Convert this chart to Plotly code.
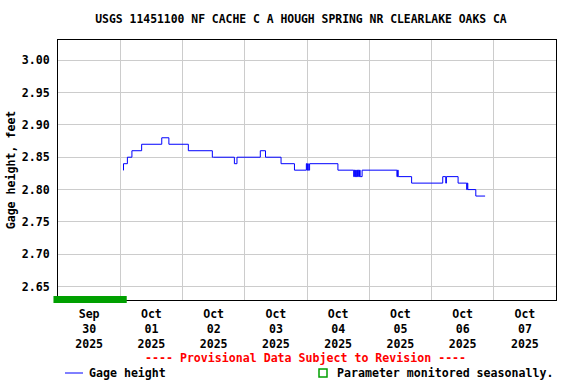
import plotly.graph_objects as go
import pandas as pd

# ---- data ----
times = [
    "2025-10-01 01:05", "2025-10-01 01:15", "2025-10-01 02:45", "2025-10-01 04:30",
    "2025-10-01 08:15", "2025-10-01 16:00", "2025-10-01 18:45", "2025-10-02 02:15",
    "2025-10-02 11:30", "2025-10-02 11:45", "2025-10-02 12:00", "2025-10-02 20:00",
    "2025-10-02 21:00", "2025-10-03 06:00", "2025-10-03 08:00", "2025-10-03 14:00",
    "2025-10-03 19:10", "2025-10-03 23:45", "2025-10-04 00:00", "2025-10-04 00:15",
    "2025-10-04 00:30", "2025-10-04 01:00", "2025-10-04 11:55", "2025-10-04 18:00",
    "2025-10-04 18:15", "2025-10-04 18:30", "2025-10-04 18:45", "2025-10-04 19:00",
    "2025-10-04 19:15", "2025-10-04 19:30", "2025-10-04 19:45", "2025-10-04 20:00",
    "2025-10-04 20:15", "2025-10-04 20:30", "2025-10-04 21:15", "2025-10-05 10:40",
    "2025-10-05 10:55", "2025-10-05 11:10", "2025-10-05 11:25", "2025-10-05 16:20",
    "2025-10-06 04:20", "2025-10-06 05:30", "2025-10-06 05:45", "2025-10-06 10:15",
    "2025-10-06 13:35", "2025-10-06 13:45", "2025-10-06 14:00", "2025-10-06 17:05",
    "2025-10-06 20:40",
]
gage_ft = [
    2.83, 2.84, 2.85, 2.86,
    2.87, 2.88, 2.87, 2.86,
    2.85, 2.85, 2.85, 2.84,
    2.85, 2.86, 2.85, 2.84,
    2.83, 2.84, 2.83, 2.84,
    2.83, 2.84, 2.83, 2.82,
    2.83, 2.82, 2.83, 2.82,
    2.83, 2.82, 2.83, 2.82,
    2.83, 2.82, 2.83, 2.82,
    2.83, 2.82, 2.82, 2.81,
    2.82, 2.81, 2.82, 2.81,
    2.80, 2.81, 2.80, 2.79,
    2.79,
]

day_starts = ["2025-09-30", "2025-10-01", "2025-10-02", "2025-10-03",
              "2025-10-04", "2025-10-05", "2025-10-06", "2025-10-07", "2025-10-08"]
tick_labels = ["Sep<br>30<br>2025", "Oct<br>01<br>2025", "Oct<br>02<br>2025",
               "Oct<br>03<br>2025", "Oct<br>04<br>2025", "Oct<br>05<br>2025",
               "Oct<br>06<br>2025", "Oct<br>07<br>2025"]
y_ticks = [2.65, 2.70, 2.75, 2.80, 2.85, 2.90, 2.95, 3.00]

seasonal_start = "2025-09-29 22:15"
seasonal_end = "2025-10-01 02:30"

title = "USGS 11451100 NF CACHE C A HOUGH SPRING NR CLEARLAKE OAKS CA"

# ---- figure ----
FONT = "DejaVu Sans Mono"
FS = 11.6
L, R, T, B = 58, 20, 40, 84
PW, PH = 576 - L - R, 384 - T - B


def px(xpix):
    return (xpix - L) / PW


def py(ypix):
    return (384 - B - ypix) / PH


days = pd.to_datetime(day_starts)
noon = [d + pd.Timedelta(hours=12) for d in days[:-1]]
span = days[-1] - days[0]


def date_frac(t):
    return (pd.Timestamp(t) - days[0]) / span


fig = go.Figure()
fig.add_trace(go.Scatter(
    x=pd.to_datetime(times), y=gage_ft, mode="lines", line_shape="hv",
    line=dict(color="#0000ff", width=1), showlegend=False, name="Gage height",
))

fig.add_shape(type="rect", xref="paper", yref="paper",
              x0=date_frac(seasonal_start), x1=date_frac(seasonal_end),
              y0=py(303), y1=py(296),
              fillcolor="#00a000", line=dict(width=0), layer="above")

fig.update_layout(
    width=576, height=384,
    margin=dict(l=L, r=R, t=T, b=B, autoexpand=False),
    paper_bgcolor="white", plot_bgcolor="white",
    font=dict(family=FONT, size=FS, color="black"),
    title=dict(text="<b>" + title + "</b>", x=px(301), xref="paper",
               y=1 - 19.5 / 384, yref="container", xanchor="center", yanchor="middle",
               font=dict(family=FONT, size=11.4, color="black")),
    showlegend=False,
)
fig.update_xaxes(
    range=[days[0], days[-1]],
    tickmode="array", tickvals=noon,
    ticktext=["<b>" + t.replace("<br>", "</b><br><b>") + "</b>" for t in tick_labels],
    showgrid=False, ticks="", showline=True, linecolor="black", linewidth=1, mirror=True,
    minor=dict(tickmode="array", tickvals=list(days), showgrid=True, gridcolor="#cccccc", ticks=""),
    tickfont=dict(family=FONT, size=FS), zeroline=False, ticklabelstandoff=3,
)
fig.update_yaxes(
    range=[2.6295, 3.031], tickmode="array", tickvals=y_ticks,
    ticktext=["<b>%.2f</b>" % v for v in y_ticks],
    showgrid=True, gridcolor="#cccccc", gridwidth=1, ticks="",
    showline=True, linecolor="black", linewidth=1, mirror=True, zeroline=False,
    tickfont=dict(family=FONT, size=FS), ticklabelstandoff=5,
    title=dict(text="<b>Gage height, feet</b>", font=dict(family=FONT, size=FS), standoff=3),
)

fig.add_annotation(text="<b>---- Provisional Data Subject to Revision ----</b>",
                   xref="paper", yref="paper", x=px(305), y=py(358),
                   xanchor="center", yanchor="middle", showarrow=False,
                   font=dict(family=FONT, size=FS, color="red"))
# legend entries
fig.add_shape(type="line", xref="paper", yref="paper",
              x0=px(65), x1=px(83), y0=py(373), y1=py(373),
              line=dict(color="#0000ff", width=1))
fig.add_annotation(text="<b>Gage height</b>", xref="paper", yref="paper",
                   x=px(87), y=py(373),
                   xanchor="left", yanchor="middle", showarrow=False,
                   font=dict(family=FONT, size=FS))
fig.add_shape(type="rect", xref="paper", yref="paper",
              x0=px(319), x1=px(327), y0=py(369), y1=py(377),
              line=dict(color="#00a000", width=1.5), fillcolor="white")
fig.add_annotation(text="<b>Parameter monitored seasonally.</b>", xref="paper", yref="paper",
                   x=px(335), y=py(373),
                   xanchor="left", yanchor="middle", showarrow=False,
                   font=dict(family=FONT, size=FS))

fig.write_html("out.html", config={"displayModeBar": False},
               post_script="document.body.style.margin='0px';document.body.style.overflow='hidden';")
